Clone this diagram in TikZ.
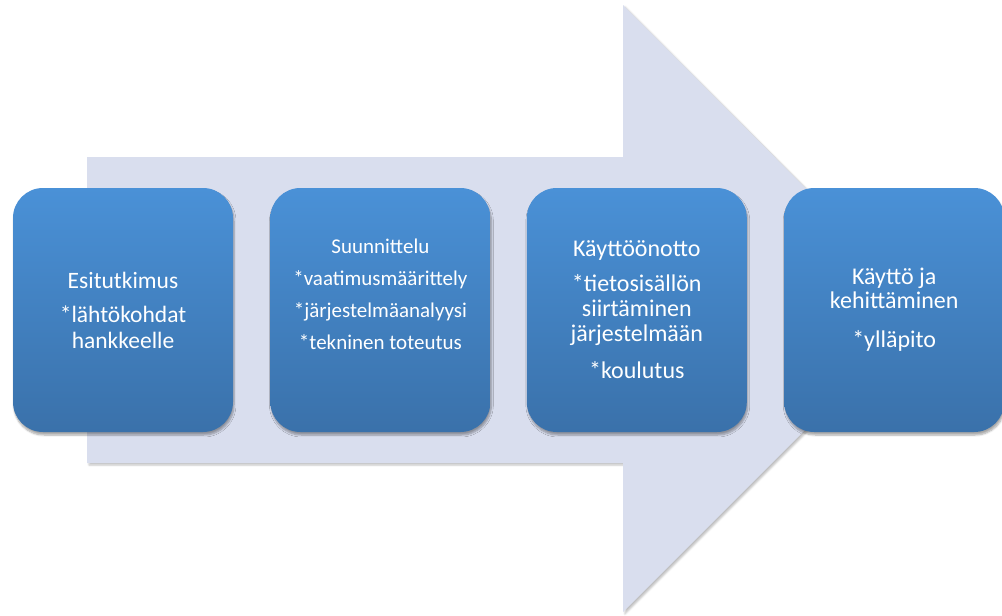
\documentclass[tikz,border=0pt]{standalone}
\usepackage{fontspec}
\setmainfont{Carlito}
\usepackage{xcolor}
\usepackage{tikz}
\usetikzlibrary{positioning,shadows.blur}
\definecolor{arrowfill}{HTML}{D9DEEE}
\definecolor{boxtop}{HTML}{4A91D7}
\definecolor{boxbottom}{HTML}{3A71AA}

\begin{document}
\begin{tikzpicture}[x=1pt,y=-1pt]
\tikzstyle{phase}=[rounded corners=30pt, minimum width=220pt, minimum height=244pt,
  inner sep=0pt, top color=boxtop, bottom color=boxbottom, text=white, align=center,
  font=\fontsize{23.5}{25.5}\selectfont,
  blur shadow={shadow xshift=1pt, shadow yshift=-3pt, shadow blur steps=6, shadow opacity=35}]
\useasboundingbox (0,0) rectangle (1002,616);
% big arrow behind the boxes
\fill [arrowfill, blur shadow={shadow xshift=2pt, shadow yshift=-2pt, shadow blur steps=4, shadow opacity=25}]
  (87,157) -- (623,157) -- (623,5) -- (926,309) -- (623,612) -- (623,463) -- (87,463) -- cycle;
\node [phase] (esi) at (123,310) {Esitutkimus\\[9pt]*lähtökohdat\\hankkeelle};
\node [phase, right=37pt of esi, font=\fontsize{21}{32}\selectfont] (suun)
  {Suunnittelu\\*vaatimusmäärittely\\*järjestelmäanalyysi\\*tekninen toteutus\\};
\node [phase, right=36pt of suun, font=\fontsize{24}{25}\selectfont] (kayt)
  {Käyttöönotto\\[10pt]*tietosisällön\\siirtäminen\\järjestelmään\\[12pt]*koulutus};
\node [phase, right=37pt of kayt, font=\fontsize{24}{24}\selectfont] (yll)
  {Käyttö ja\\kehittäminen\\[15pt]*ylläpito};
\end{tikzpicture}
\end{document}
